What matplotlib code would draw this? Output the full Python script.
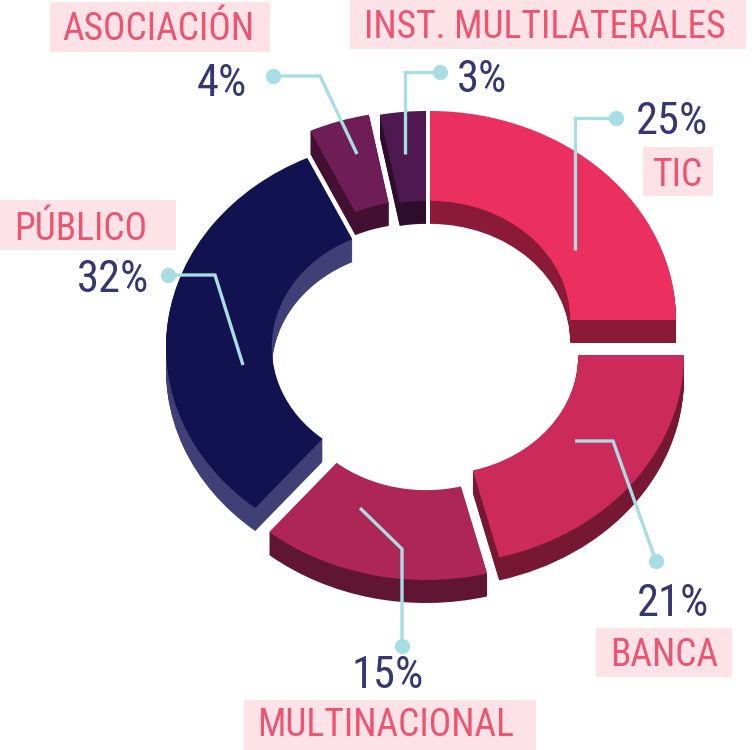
import numpy as np
import matplotlib
matplotlib.use('Agg')
import matplotlib.pyplot as plt
from matplotlib import font_manager
from matplotlib.patches import Rectangle

# data
categories = ['TIC', 'BANCA', 'MULTINACIONAL', 'PÚBLICO', 'ASOCIACIÓN', 'INST. MULTILATERALES']
shares = [25, 21, 15, 32, 4, 3]
pct_labels = ['25%', '21%', '15%', '32%', '4%', '3%']

# styles
top_colors = ['#EB2F5F', '#CB2A5B', '#AD2656', '#131251', '#6E1D56', '#4E1850']
side_colors = ['#8A1A37', '#761834', '#601532', '#404077', '#431033', '#2E0C2E']
line_col = '#A8DEE3'
pct_col = '#363670'
lab_col = '#EE5370'
box_col = '#FDE3E8'

# geometry in pixels (x right, y down)
W, H = 752, 750
CX, CY, RX, RY = 425, 340, 246, 209
DEPTH = 23
HOLE = 0.57
# how far each piece is pulled out of the ring
offsets_px = [(5, -20), (13, 15), (1, 31), (-13, 7), (-10, -20), (1, -20)]

# annotation layout in pixels
leaders = [
    [(575, 250), (575, 118), (616, 118)],
    [(575, 441), (613, 441), (656, 561)],
    [(360, 508), (402, 549), (402, 646)],
    [(243, 365), (215, 275), (168, 275)],
    [(357, 154), (320, 76), (273, 76)],
    [(405, 154), (405, 72), (440, 72)],
]
pct_pos = [(672, 117), (673, 600), (388, 672), (113, 276), (222, 79), (482, 75)]
label_pos = [(678, 172), (664, 652), (386, 722), (81, 226), (158, 26), (545, 24)]
boxes = [(643, 147, 70, 49), (596, 628, 136, 49), (244, 700, 292, 50),
         (0, 200, 176, 50), (50, 2, 220, 50), (350, 0, 396, 49)]

names = {f.name for f in font_manager.fontManager.ttflist}
if 'Roboto Condensed' in names:
    fam, lab_size, pct_size = 'Roboto Condensed', 27, 32
else:
    fam, lab_size, pct_size = 'Roboto', 22, 28

fig = plt.figure(figsize=(W / 100, H / 100), dpi=100)
ax = fig.add_axes([0, 0, 1, 1])


def to_data(dx, dy):
    return dx / RX, -dy / RY


# side walls: stack of darker rings shifted downward
for k in np.linspace(DEPTH, 1, 23):
    wedges, _ = ax.pie(shares, colors=side_colors, startangle=90, counterclock=False,
                       wedgeprops=dict(width=1 - HOLE, linewidth=0))
    for w, (ox, oy) in zip(wedges, offsets_px):
        w.set_center(to_data(ox, oy + k))
        w.set_zorder(1)

wedges, _ = ax.pie(shares, colors=top_colors, startangle=90, counterclock=False,
                   wedgeprops=dict(width=1 - HOLE, linewidth=0))
for w, (ox, oy) in zip(wedges, offsets_px):
    w.set_center(to_data(ox, oy))
    w.set_zorder(2)

ax.set_aspect('auto')
ax.set_xlim(-CX / RX, (W - CX) / RX)
ax.set_ylim(-(H - CY) / RY, CY / RY)
ax.axis('off')

# overlay in pixel coordinates for the callouts
ov = fig.add_axes([0, 0, 1, 1])
ov.set_xlim(0, W)
ov.set_ylim(H, 0)
ov.axis('off')
ov.patch.set_alpha(0)

for i, cat in enumerate(categories):
    pts = np.array(leaders[i])
    ov.plot(pts[:, 0], pts[:, 1], color=line_col, lw=2.4, solid_capstyle='butt',
            solid_joinstyle='miter', zorder=3)
    ov.plot(pts[-1, 0], pts[-1, 1], 'o', color=line_col, ms=11, mec='none', zorder=4)
    ov.text(pct_pos[i][0], pct_pos[i][1], pct_labels[i], color=pct_col, fontsize=pct_size,
            family=fam, ha='center', va='center_baseline')
    bx, by, bw, bh = boxes[i]
    ov.add_patch(Rectangle((bx, by), bw, bh, facecolor=box_col, edgecolor='none', zorder=1))
    ov.text(label_pos[i][0], label_pos[i][1], cat, color=lab_col, fontsize=lab_size,
            family=fam, ha='center', va='center_baseline', zorder=2)

fig.savefig('out.png', dpi=100)
